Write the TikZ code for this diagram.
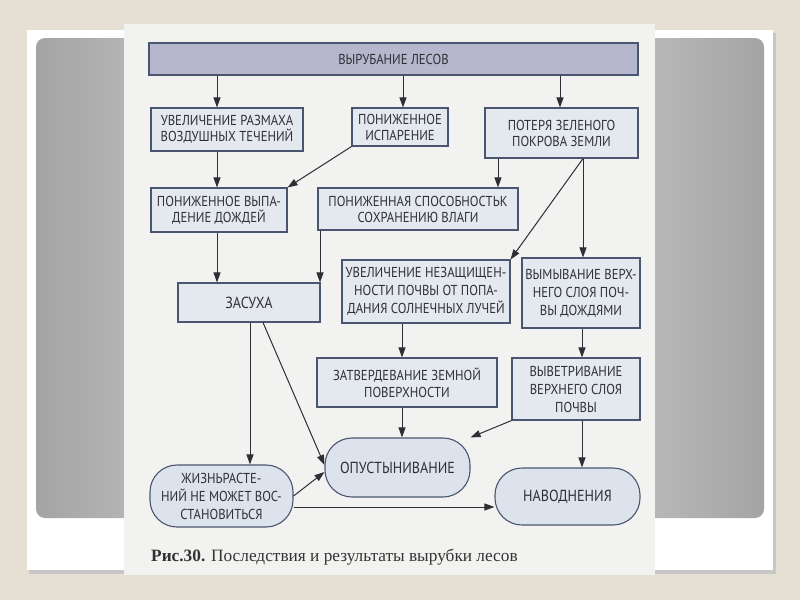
\documentclass[tikz,border=0pt]{standalone}
\usepackage{fontspec}
\setmainfont{PT Sans}
\newfontfamily\boxfont[FakeStretch=0.88]{PT Sans}
\newfontfamily\capfont{Liberation Serif}
\usetikzlibrary{arrows.meta}
\definecolor{bgbeige}{HTML}{E6E0D4}
\definecolor{pagec}{HTML}{F2F2F0}
\definecolor{boxline}{HTML}{4A5670}
\definecolor{boxfill}{HTML}{E4E9F0}
\definecolor{roundfill}{HTML}{DCE3EC}
\definecolor{barfill}{HTML}{B6B6CC}
\definecolor{txt}{HTML}{303036}
\definecolor{arrowc}{HTML}{2E2E36}
\definecolor{gedge}{HTML}{A4A4A4}
\definecolor{gmid}{HTML}{E4E4E4}
\pgfdeclarehorizontalshading{slidegray}{100bp}{color(0bp)=(gedge); color(25bp)=(gedge); color(50bp)=(gmid); color(75bp)=(gedge); color(100bp)=(gedge)}
\begin{document}
\begin{tikzpicture}[x=1pt,y=-1pt,
  box/.style={draw=boxline, fill=boxfill, line width=1.1pt, align=center, inner sep=0pt,
    font=\boxfont\fontsize{14.4}{16}\selectfont, text=txt},
  roundbox/.style={box, fill=roundfill, rounded corners=27pt},
  arr/.style={-{Triangle[length=10pt,width=7pt]}, line width=1pt, draw=arrowc}]
% background
\fill[bgbeige] (0,0) rectangle (800,600);
\fill[black!22] (29,33) rectangle (776,574);
\fill[white] (27,30) rectangle (773,570);
\shade[shading=slidegray, rounded corners=9pt] (36,38) rectangle (764,518);
\fill[pagec] (124,24) rectangle (655,575);
\useasboundingbox (0,0) rectangle (800,600);
% nodes
\node[box, fill=barfill, minimum width=489pt, minimum height=32pt] (bar) at (393.5,59) {ВЫРУБАНИЕ ЛЕСОВ};
\node[box, minimum width=152pt, minimum height=43pt] (b1) at (227,129.5) {УВЕЛИЧЕНИЕ РАЗМАХА\\ВОЗДУШНЫХ ТЕЧЕНИЙ};
\node[box, minimum width=96pt, minimum height=38pt] (b2) at (400,127) {ПОНИЖЕННОЕ\\ИСПАРЕНИЕ};
\node[box, minimum width=153pt, minimum height=50pt] (b3) at (561.5,133) {ПОТЕРЯ ЗЕЛЕНОГО\\ПОКРОВА ЗЕМЛИ};
\node[box, minimum width=136pt, minimum height=44pt] (b4) at (219,210) {ПОНИЖЕННОЕ ВЫПА-\\ДЕНИЕ ДОЖДЕЙ};
\node[box, minimum width=200pt, minimum height=42pt] (b5) at (418,209) {ПОНИЖЕННАЯ СПОСОБНОСТЬК\\СОХРАНЕНИЮ ВЛАГИ};
\node[box, minimum width=142pt, minimum height=39pt, font=\boxfont\fontsize{16}{18}\selectfont] (b6) at (249,302.5) {ЗАСУХА};
\node[box, minimum width=168pt, minimum height=63pt, font=\boxfont\fontsize{14.4}{18}\selectfont] (b7) at (426,291.5) {УВЕЛИЧЕНИЕ НЕЗАЩИЩЕН-\\НОСТИ ПОЧВЫ ОТ ПОПА-\\ДАНИЯ СОЛНЕЧНЫХ ЛУЧЕЙ};
\node[box, minimum width=118pt, minimum height=70pt, font=\boxfont\fontsize{14.4}{18}\selectfont] (b8) at (581,293) {ВЫМЫВАНИЕ ВЕРХ-\\НЕГО СЛОЯ ПОЧ-\\ВЫ ДОЖДЯМИ};
\node[box, minimum width=180pt, minimum height=49pt, font=\boxfont\fontsize{14.4}{17}\selectfont] (b9) at (407,382.5) {ЗАТВЕРДЕВАНИЕ ЗЕМНОЙ\\ПОВЕРХНОСТИ};
\node[box, minimum width=128pt, minimum height=62pt, font=\boxfont\fontsize{14.4}{18}\selectfont] (b10) at (576,389) {ВЫВЕТРИВАНИЕ\\ВЕРХНЕГО СЛОЯ\\ПОЧВЫ};
\node[roundbox, minimum width=145pt, minimum height=59pt, font=\boxfont\fontsize{16}{18}\selectfont] (r1) at (397.5,467.5) {ОПУСТЫНИВАНИЕ};
\node[roundbox, minimum width=143pt, minimum height=62pt, font=\boxfont\fontsize{14.4}{18}\selectfont] (r2) at (221.5,496) {ЖИЗНЬРАСТЕ-\\НИЙ НЕ МОЖЕТ ВОС-\\СТАНОВИТЬСЯ};
\node[roundbox, minimum width=145pt, minimum height=57pt, font=\boxfont\fontsize{16}{18}\selectfont] (r3) at (567.5,496.5) {НАВОДНЕНИЯ};
\node[anchor=base west, font=\capfont\fontsize{17.3}{20}\selectfont, text=black!80, inner sep=0pt] (cap) at (151,561) {\textbf{Рис.30.} Последствия и результаты вырубки лесов};
% connectors
\draw[arr] (bar.south -| 217,0) -- (b1.north -| 217,0);
\draw[arr] (bar.south -| 403,0) -- (b2.north -| 403,0);
\draw[arr] (bar.south -| 560,0) -- (b3.north -| 560,0);
\draw[arr] (b1.south -| 217,0) -- (b4.north -| 217,0);
\draw[arr] (b2.south west) -- (b4.north east);
\draw[arr] (b3.south -| 498,0) -- (b5.north -| 498,0);
\draw[arr] (b3.south -| 583,0) -- (b7.north east);
\draw[arr] (b3.south -| 583,0) -- (b8.north -| 583,0);
\draw[arr] (b5.south -| 320,0) -- (b6.north -| 320,0);
\draw[arr] (b4.south -| 217,0) -- (b6.north -| 217,0);
\draw[arr] (b6.south -| 250,0) -- (r2.north -| 250,0);
\draw[arr] (b6.south -| 263,0) -- (r1.west |- 0,465);
\draw[arr] (b7.south -| 402,0) -- (b9.north -| 402,0);
\draw[arr] (b8.south -| 582,0) -- (b10.north -| 582,0);
\draw[arr] (b9.south -| 402,0) -- (r1.north -| 402,0);
\draw[arr] (b10.south west) -- (r1.north east);
\draw[arr] (b10.south -| 582,0) -- (r3.north -| 582,0);
\draw[arr] (r2.east) -- (r1.west |- 0,472);
\draw[arr] (r2.east |- 0,507) -- (r3.west |- 0,507);
\end{tikzpicture}
\end{document}
